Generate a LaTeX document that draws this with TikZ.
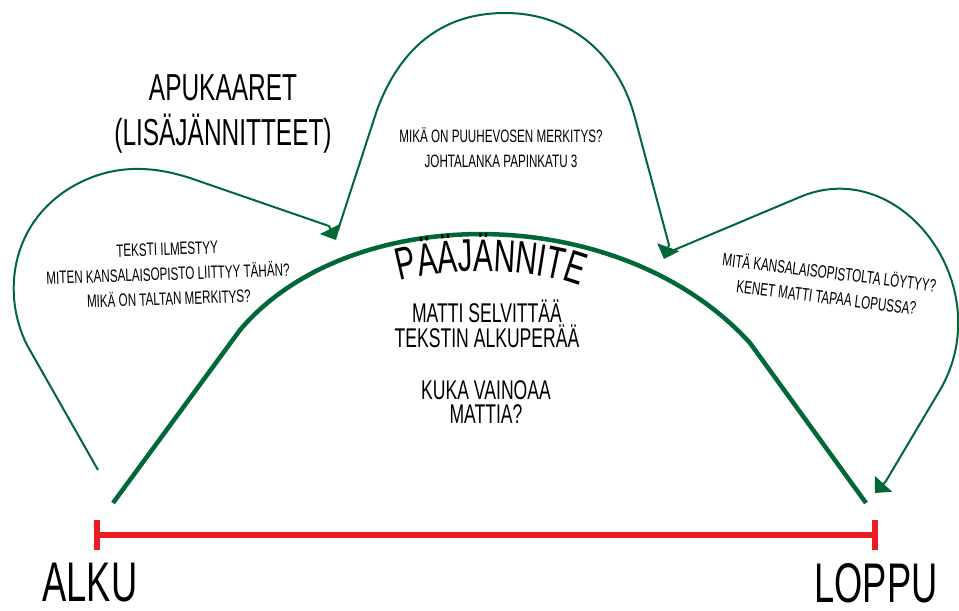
\documentclass[tikz,border=0pt]{standalone}
\usepackage{fontspec}
\setmainfont{Liberation Sans}[FakeStretch=0.65]
\usetikzlibrary{arrows.meta, decorations.text}
\definecolor{arcgreen}{RGB}{0,103,55}
\definecolor{barred}{RGB}{237,28,36}
\newcommand{\paafont}{\fontsize{26}{30}\selectfont}

\begin{document}
\begin{tikzpicture}[
    x=0.02cm, y=0.02cm,
    mainarc/.style={draw=arcgreen, line width=0.9mm},
    helparc/.style={draw=arcgreen, line width=0.4mm, line join=round},
    arrow/.style={-{Triangle[length=2.5mm, width=4.6mm]}},
    bigtxt/.style={font=\fontsize{31.8}{36}\selectfont, inner sep=0},
    headtxt/.style={font=\fontsize{21.4}{25.6}\selectfont, align=center, inner sep=0},
    maintxt/.style={font=\fontsize{15.4}{14}\selectfont, align=center, inner sep=0},
    smalltxt/.style={font=\fontsize{10.2}{14.2}\selectfont, align=center, inner sep=0}
]
\useasboundingbox (0,0) rectangle (959,610);

% Timeline
\coordinate (alku) at (94,75);
\coordinate (loppu) at (878,75);
\draw[barred, line width=1.2mm, {Bar[width=6mm]}-{Bar[width=6mm]}] (alku) -- (loppu);
\node[bigtxt] (alkutxt) at (90,27) {ALKU};
\node[bigtxt] (lopputxt) at (876,27) {LOPPU};

% Main arc
\coordinate (mainA) at (113,107);
\coordinate (mainB) at (866,107);
\draw[mainarc] (mainA) -- (240,280) .. controls (350,410) and (620,410) .. (750,267) -- (mainB);

% Helper arcs
\coordinate (lstart) at (98,140);
\coordinate (tipL) at (336,370);
\coordinate (mstart) at (338,380);
\coordinate (tipM) at (664,351);
\coordinate (rstart) at (674,360);
\coordinate (tipR) at (875,117);
\draw[helparc, arrow] (lstart) -- (27,265) .. controls (2,315) and (10,385) .. (70,422)
    .. controls (110,446) and (150,445) .. (190,432) -- (329,384) -- (tipL);
\draw[helparc, arrow] (mstart) -- (377,500) .. controls (405,575) and (455,597) .. (505,597)
    .. controls (575,597) and (620,550) .. (635,492) -- (669,365) -- (tipM);
\draw[helparc, arrow] (rstart) -- (800,413) .. controls (901,456) and (1000,323) .. (940,220)
    -- (886,129) -- (tipR);

% Texts
\node[headtxt] (apukaaret) at (223,496) {APUKAARET\\(LISÄJÄNNITTEET)};
\path[decorate, decoration={text along path, text align=center,
    text={|\paafont|PÄÄJÄNNITE}}] (396,328) .. controls (440,343) and (540,343) .. (584,322);
\node[maintxt] (selvittaa) at (487,286) {MATTI SELVITTÄÄ\\TEKSTIN ALKUPERÄÄ};
\node[maintxt] (vainoaa) at (486,208) {KUKA VAINOAA\\MATTIA?};
\node[smalltxt, rotate=2] (ilmestyy) at (168,336) {TEKSTI ILMESTYY\\MITEN KANSALAISOPISTO LIITTYY TÄHÄN?\\MIKÄ ON TALTAN MERKITYS?};
\node[smalltxt] (puuhevonen) at (501,462) {MIKÄ ON PUUHEVOSEN MERKITYS?\\JOHTALANKA PAPINKATU 3};
\node[smalltxt, rotate=-7] (lopussa) at (828,326) {MITÄ KANSALAISOPISTOLTA LÖYTYY?\\KENET MATTI TAPAA LOPUSSA?};

\end{tikzpicture}
\end{document}
